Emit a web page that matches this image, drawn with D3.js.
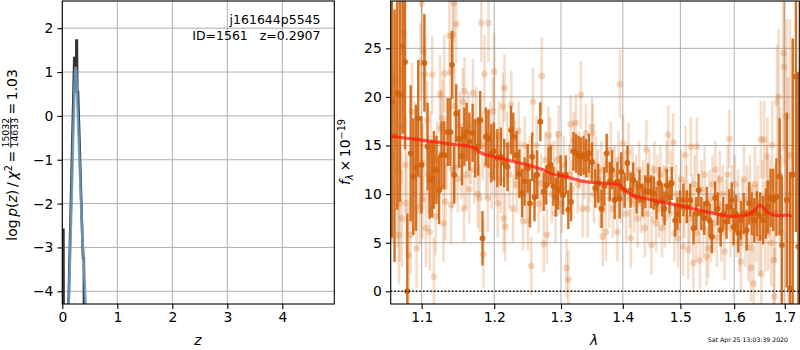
<!DOCTYPE html>
<html><head><meta charset="utf-8">
<script src="https://cdn.jsdelivr.net/npm/d3@7/dist/d3.min.js"></script>
<style>
body{margin:0;background:#fff;}
svg{display:block;font-family:"DejaVu Sans",sans-serif;}
</style></head><body>
<svg id="c" width="800" height="350"></svg>
<script>
// ---------- left panel: log p(z) ----------
const pzGridDark = [0.0, 0.02, 0.03, 0.11, 0.218, 0.226, 0.233, 0.25, 0.256, 0.265, 0.272, 0.285, 0.37, 0.378, 0.392, 0.40];
const pzLogDark  = [-2.6, -2.6, -8, -4.5, 1.32, 1.32, 0.55, 0.55, 1.72, 1.72, 0.55, 0.55, -3.0, -3.25, -3.25, -8];
const pzGridFit  = [0.115, 0.17, 0.22, 0.24, 0.252, 0.30, 0.37, 0.38, 0.39, 0.43];
const pzLogFit   = [-4.4, -1.9, 0.6, 1.12, 1.05, -0.6, -2.95, -3.0, -3.4, -4.4];
const zTicks   = [0, 1, 2, 3, 4];
const lnpTicks = [-4, -3, -2, -1, 0, 1, 2];
const objName  = "j161644p5545";
const objInfo  = "ID=1561\u00a0\u00a0\u00a0z=0.2907";

// ---------- right panel: spectrum ----------
const lamTicks  = [1.1, 1.2, 1.3, 1.4, 1.5, 1.6, 1.7];
const fluxTicks = [0, 5, 10, 15, 20, 25];

const darkWave = [1.0615,1.0648,1.0683,1.0717,1.0752,1.0782,1.0812,1.0856,1.0890,1.0925,1.0955,
 1.0997,1.1036,1.1078,1.1106,1.1140,1.1162,1.1196,1.1232,1.1265,1.1302,1.1349,1.1385,1.1409,1.1437,1.1465,1.1503,1.1545,1.1577,1.1609,1.1647,1.1693,1.1730,1.1772,1.1800,1.1832,1.1880,1.1916,1.1958,
 1.1996,1.2045,1.2095,1.2144,1.2193,1.2243,1.2277,1.2326,1.2366,1.2407,1.2445,1.2490,1.2525,1.2559,1.2593,1.2634,1.2682,1.2733,1.2772,1.2807,1.2841,1.2881,1.2920,1.2955,1.2994,
 1.3032,1.3075,1.3114,1.3156,1.3195,1.3237,1.3276,1.3313,1.3357,1.3399,1.3443,1.3492,1.3545,1.3594,1.3649,1.3692,1.3731,1.3784,1.3821,1.3865,1.3909,1.3946,1.3974,
 1.4030,1.4078,1.4131,1.4176,1.4236,1.4282,1.4335,1.4383,1.4430,1.4483,1.4529,1.4577,1.4630,1.4677,1.4718,1.4758,1.4806,1.4847,1.4907,1.4947,1.4995,
 1.5055,1.5116,1.5179,1.5239,1.5289,1.5331,1.5381,1.5436,1.5484,1.5534,1.5576,1.5639,1.5687,1.5742,1.5792,1.5853,1.5902,1.5952,
 1.5989,1.6033,1.6078,1.6130,1.6183,1.6241,1.6292,1.6339,1.6389,1.6442,1.6506,1.6564,1.6617,1.6661,1.6714,1.6767,1.6831,1.6895,1.6942,
 1.7041,1.7108,1.7163,1.7230,1.7278];
const darkFlux = [19.5,16.0,20.4,20.2,25.2,23.6,0.0,14.2,11.8,12.7,17.8,
 13.0,23.5,14.9,11.45,11.6,12.5,12.5,10.4,14.0,14.0,16.4,16.4,23.3,12.0,18.3,15.7,13.9,15.9,16.4,15.4,16.3,14.7,14.9,17.6,5.45,15.9,15.7,14.2,
 14.4,13.7,13.85,13.2,12.8,16.6,15.9,14.0,12.1,10.1,11.3,12.65,9.05,13.85,9.7,12.0,17.45,10.25,10.9,12.8,13.0,10.8,9.7,10.4,12.0,
 9.9,12.0,8.4,9.2,14.4,14.2,14.0,13.85,14.0,13.7,14.2,13.3,10.6,11.1,8.5,10.8,14.2,11.3,12.5,9.4,11.3,9.5,12.3,
 10.4,13.2,10.4,11.45,9.7,10.8,9.4,10.25,11.45,10.25,10.1,9.05,11.1,9.4,8.5,10.9,9.7,11.1,7.3,8.0,8.7,
 9.4,8.7,9.4,6.5,8.0,10.4,8.0,7.5,9.05,7.3,5.6,9.6,8.5,6.3,8.0,7.2,8.7,9.4,
 6.65,8.0,6.0,7.3,8.0,6.3,9.05,8.0,7.3,8.0,7.7,7.3,8.0,8.7,9.6,9.4,9.7,11.8,4.75,
 9.4,0.3,12.0,22.1,4.6];
const darkErr = [14,13,12,11,9,9,8,7,6,6.5,6,
 5,5,4.5,4,4,4,3.5,3.5,3.5,3.5,3.5,3.5,3.5,3,3,3,3,3,3,3,3,3,3,3,2.8,3,3,3,
 3,3,3,2.5,2.5,2.5,2.5,2.5,2.5,2.5,2.5,2.5,2.5,2.5,2.5,2.5,2,2,2,2,2,2,2,2,2,
 2,2,2,2,2,2,2,2,2,2,2,2,2,2,2,2,2,2,2,2,2,2,2,
 1.8,1.8,1.8,1.8,1.7,1.7,1.7,1.7,1.7,1.7,1.7,1.7,1.7,1.7,1.7,1.7,1.7,1.7,1.7,1.7,1.7,
 1.7,1.7,1.7,1.7,1.7,1.7,1.7,1.7,1.7,1.7,1.7,1.7,1.7,1.7,1.7,1.8,1.8,1.8,
 1.9,1.9,2,2,2.1,2.1,2.2,2.2,2.3,2.3,2.5,2.5,2.6,2.7,3,3.2,4,6,7,
 9,12,14,16,18];

const lightWave = [1.0621,1.0661,1.0687,1.0705,1.0714,1.0734,1.0744,1.0757,1.0767,1.0786,1.0802,1.0826,1.0855,1.0872,1.0892,1.0912,1.0934,1.0958,1.0978,1.0987,
 1.1000,1.1008,1.1022,1.1029,1.1043,1.1056,1.1070,1.1088,1.1106,1.1123,1.1140,1.1162,1.1186,1.1207,1.1228,1.1246,1.1256,1.1279,1.1291,1.1302,1.1316,1.1339,1.1372,1.1385,1.1395,1.1409,1.1419,1.1433,1.1441,1.1451,1.1465,1.1489,1.1514,1.1535,1.1556,1.1573,1.1581,1.1605,1.1631,1.1647,1.1668,1.1698,1.1716,1.1744,1.1765,1.1790,1.1814,1.1835,1.1846,1.1860,1.1884,1.1908,1.1916,1.1940,1.1961,1.1982,
 1.2000,1.2025,1.2050,1.2070,1.2092,1.2125,1.2136,1.2148,1.2159,1.2188,1.2218,1.2248,1.2273,1.2300,1.2329,1.2359,1.2389,1.2421,1.2448,1.2470,1.2496,1.2522,1.2545,1.2570,1.2596,1.2626,1.2656,1.2693,1.2703,1.2733,1.2760,1.2782,1.2804,1.2831,1.2856,1.2886,1.2915,1.2938,1.2964,1.2990,
 1.3013,1.3045,1.3086,1.3114,1.3135,1.3151,1.3175,1.3200,1.3232,1.3265,1.3289,1.3313,1.3341,1.3370,1.3394,1.3422,1.3451,1.3492,1.3503,1.3524,1.3557,1.3589,1.3622,1.3646,1.3666,1.3695,1.3719,1.3744,1.3776,1.3800,1.3833,1.3865,1.3909,1.3930,1.3951,1.3971,
 1.4004,1.4030,1.4056,1.4095,1.4118,1.4136,1.4162,1.4189,1.4224,1.4250,1.4277,1.4312,1.4347,1.4374,1.4400,1.4427,1.4453,1.4489,1.4515,1.4541,1.4568,1.4594,1.4621,1.4647,1.4674,1.4700,1.4727,1.4753,1.4783,1.4806,1.4832,1.4871,1.4894,1.4920,1.4959,1.4982,
 1.5018,1.5050,1.5074,1.5092,1.5120,1.5142,1.5166,1.5190,1.5212,1.5234,1.5258,1.5285,1.5300,1.5331,1.5355,1.5387,1.5414,1.5442,1.5479,1.5510,1.5534,1.5562,1.5589,1.5617,1.5644,1.5672,1.5700,1.5727,1.5755,1.5783,1.5816,1.5847,1.5874,1.5908,1.5930,1.5958,1.5985,
 1.6014,1.6043,1.6072,1.6101,1.6130,1.6160,1.6189,1.6218,1.6247,1.6276,1.6305,1.6325,1.6354,1.6377,1.6403,1.6432,1.6461,1.6490,1.6519,1.6529,1.6558,1.6584,1.6607,1.6636,1.6650,1.6665,1.6695,1.6724,1.6747,1.6778,1.6792,1.6811,1.6844,1.6875,1.6899,1.6928,1.6973,1.6986,
 1.7041,1.7067,1.7108];
const lightFlux = [14.0,21.7,12.5,5.8,9.05,17.0,7.5,24.6,26.6,13.0,9.05,3.7,5.8,18.5,10.0,15.5,4.4,12.0,8.7,23.6,
 29.6,9.4,13.2,24.6,22.3,6.5,17.6,12.0,6.1,14.5,22.3,1.5,7.7,13.5,11.0,20.3,16.8,17.8,7.0,22.4,9.2,14.0,26.3,22.5,8.9,12.5,26.4,29.7,19.0,12.7,27.5,11.6,17.0,13.0,19.5,8.5,20.6,12.0,17.0,10.5,14.5,20.4,12.5,17.5,10.0,9.6,27.6,15.0,3.8,22.35,13.0,9.6,27.6,16.0,12.0,18.5,
 22.6,13.0,9.05,16.0,11.5,19.0,7.5,20.9,6.65,15.0,12.0,19.2,8.5,14.0,11.0,16.5,12.5,7.2,15.0,10.5,7.2,13.0,2.6,19.5,11.5,15.0,9.0,11.1,22.15,4.9,13.5,5.8,16.0,14.9,10.0,12.5,8.0,13.5,16.15,11.0,
 9.0,13.0,2.4,1.2,12.0,17.2,10.5,15.5,17.3,11.0,13.5,20.2,8.5,12.5,16.25,8.5,12.0,16.9,16.3,10.0,13.0,11.5,9.5,12.5,5.6,11.0,6.1,13.0,9.5,14.5,8.5,12.0,6.1,13.5,21.3,10.0,
 15.2,11.5,8.0,14.3,9.5,5.45,12.0,9.0,11.0,7.5,12.5,9.0,10.5,6.5,14.6,8.0,11.5,4.75,10.0,12.5,7.0,11.0,8.5,12.0,6.5,10.0,7.5,12.5,16.1,8.0,11.5,15.3,6.0,10.0,5.45,9.0,
 11.5,4.6,8.5,14.0,10.0,4.25,7.5,14.9,9.0,2.9,11.0,6.0,14.9,8.0,3.2,10.5,6.5,12.0,3.55,4.4,9.5,6.0,11.0,7.0,12.5,5.5,9.0,11.5,6.0,10.0,4.1,8.5,12.0,15.7,6.5,10.0,7.5,
 11.0,6.5,9.5,5.0,3.05,8.0,11.5,6.0,9.5,4.5,10.5,2.4,7.5,0.8,11.0,7.0,9.0,5.5,15.6,1.8,9.5,15.6,6.0,11.0,13.85,6.1,9.5,5.0,15.05,3.2,-0.55,8.0,19.4,20.0,12.0,6.0,24.5,23.1,
 18.0,10.0,14.0];
const lightErr = [9,7,8,5,6,6,5,6,7,5,5,5,4,5,4,4,4,4,4,4,
 5,4,4,4,4,4,4,4,4,4,4,4,4,4,3.5,4,4,4,4,4,4,3.5,4,4,4,4,4,4,4,3.5,4,3.5,3.5,3.5,3.5,3.5,3.5,3.5,3.5,3.5,3.5,3.5,3.5,3.5,3.5,3.5,4,3.5,3.5,4,3.5,3.5,4,3.5,3.5,3.5,
 4,3.5,3.5,3.5,3.5,3.5,3.5,3.5,3.5,3.5,3.5,3.5,3.5,3.5,3,3,3,3,3,3,3,3,3,3.5,3,3,3,3,4,3,3,3,3,3,3,3,3,3,3,3,
 3,3,3,3,3,3,3,3,3,3,3,3.5,3,3,3,3,3,3,3,3,3,3,3,3,3,3,3,3,3,3,3,3,3,3,3.5,3,
 3,3,3,3,3,3,3,3,3,3,3,3,3,3,3,3,3,3,3,3,3,3,3,3,3,3,3,3,3,3,3,3,3,3,3,3,
 3,3,3,3,3,3,3,3,3,3,3,3,3,3,3,3,3,3,3,3,3,3,3,3,3,3,3,3,3,3,3,3,3,3,3,3,3,
 3,3,3,3,3,3.5,3.5,3.5,3.5,3.5,3.5,3.5,3.5,4,4,4,4,4,4,4,4,4,4,4,4,4,4,4.5,4.5,5,5,5,6,7,7,8,10,10,
 10,12,14];

const modelWave = [1.0600,1.0800,1.1000,1.1200,1.1450,1.1600,1.1720,1.1800,1.1860,1.2000,1.2250,1.2545,1.2700,1.2880,1.3000,1.3370,1.3700,1.3910,1.3960,1.4000,1.4140,1.4300,1.4430,1.4700,1.5020,1.5300,1.5630,1.5940,1.6150,1.6260,1.6390,1.6506,1.6617,1.6714,1.6875,1.7073,1.7143];
const modelFlux = [15.98,15.75,15.55,15.35,15.1,14.98,14.75,14.3,14.1,13.85,13.4,12.9,12.55,12.05,11.9,11.3,11.1,11.0,10.9,10.6,9.95,9.65,9.5,9.15,8.78,8.4,8.0,7.7,7.75,7.9,8.3,8.85,8.35,7.95,7.78,7.85,7.67];

const stamp = "Sat Apr 25 13:03:39 2020";

// ---------- drawing ----------
const svg = d3.select("#c");
const FS = 13.9;
const C_DARK = "#d2640f";
const GRID = "#b0b0b0";

function axesFrame(g, x, y, xt, yt, xfmt, yfmt) {
  const [x0, x1] = x.range(), [y0, y1] = y.range();
  // grid
  g.append("g").selectAll("line").data(xt).join("line")
    .attr("x1", d => x(d)).attr("x2", d => x(d)).attr("y1", y1).attr("y2", y0)
    .attr("stroke", GRID).attr("stroke-width", 1);
  g.append("g").selectAll("line").data(yt).join("line")
    .attr("y1", d => y(d)).attr("y2", d => y(d)).attr("x1", x0).attr("x2", x1)
    .attr("stroke", GRID).attr("stroke-width", 1);
}
function axesDecor(g, x, y, xt, yt, xfmt, yfmt) {
  const [x0, x1] = x.range(), [y0, y1] = y.range();
  g.append("rect").attr("x", x0).attr("y", y1).attr("width", x1 - x0).attr("height", y0 - y1)
    .attr("fill", "none").attr("stroke", "#000").attr("stroke-width", 1.1);
  const xa = g.append("g").attr("transform", `translate(0,${y0})`)
    .call(d3.axisBottom(x).tickValues(xt).tickFormat(xfmt).tickSize(4.9).tickPadding(3.2));
  const ya = g.append("g").attr("transform", `translate(${x0},0)`)
    .call(d3.axisLeft(y).tickValues(yt).tickFormat(yfmt).tickSize(4.9).tickPadding(4.0));
  [xa, ya].forEach(a => {
    a.select(".domain").remove();
    a.selectAll("text").attr("font-size", FS).attr("font-family", "DejaVu Sans").attr("fill", "#000");
    a.selectAll("line").attr("stroke", "#000").attr("stroke-width", 1.1);
  });
}
const minusFmt = d => (d < 0 ? "\u2212" + Math.abs(d) : String(d));

// ----- left panel -----
const xz = d3.scaleLinear().domain([0, 4.945]).range([62.3, 334.3]);
const yp = d3.scaleLinear().domain([-4.29, 2.62]).range([304, 1]);
const gL = svg.append("g");
axesFrame(gL, xz, yp, zTicks, lnpTicks);
svg.append("defs").html(
  `<clipPath id="clipL"><rect x="62.3" y="1" width="272" height="303"/></clipPath>
   <clipPath id="clipR"><rect x="390.7" y="1" width="408.6" height="303"/></clipPath>`);
const lineL = d3.line().x(d => xz(d[0])).y(d => yp(d[1]));
const gLc = gL.append("g").attr("clip-path", "url(#clipL)");
gLc.append("path").attr("d", lineL(d3.zip(pzGridDark, pzLogDark)))
  .attr("fill", "none").attr("stroke", "#333").attr("stroke-width", 2.6).attr("stroke-linejoin", "miter");
gLc.append("path").attr("d", lineL(d3.zip(pzGridFit, pzLogFit)))
  .attr("fill", "none").attr("stroke", "#6f9fc8").attr("stroke-width", 2.6).attr("stroke-opacity", 0.85);
axesDecor(gL, xz, yp, zTicks, lnpTicks, d => String(d), minusFmt);
gL.append("text").attr("x", 320.5).attr("y", 24).attr("text-anchor", "end")
  .attr("font-size", 12.5).text(objName);
gL.append("text").attr("x", 320.5).attr("y", 39.5).attr("text-anchor", "end")
  .attr("font-size", 12.5).text(objInfo);
gL.append("text").attr("x", 198).attr("y", 345).attr("text-anchor", "middle")
  .attr("font-size", FS).attr("font-style", "italic").text("z");

// left y label with fraction
(function () {
  const g = svg.append("g");
  const t1 = g.append("text").attr("font-size", FS).attr("y", 0).attr("x", 0);
  t1.append("tspan").text("log\u2009");
  t1.append("tspan").attr("font-style", "italic").text("p");
  t1.append("tspan").text("(");
  t1.append("tspan").attr("font-style", "italic").text("z");
  t1.append("tspan").text(")\u2009/\u2009");
  t1.append("tspan").attr("font-style", "italic").text("\u03c7");
  t1.append("tspan").attr("font-size", 9.7).attr("dy", -5.5).text("2");
  t1.append("tspan").attr("dy", 5.5).text("\u2009=\u2009");
  const w1 = t1.node().getComputedTextLength();
  const num = g.append("text").attr("font-size", 9.3).attr("text-anchor", "middle").text("15032");
  const den = g.append("text").attr("font-size", 9.3).attr("text-anchor", "middle").text("14633");
  const fw = Math.max(num.node().getComputedTextLength(), den.node().getComputedTextLength()) + 1;
  num.attr("x", w1 + fw / 2).attr("y", -8.6);
  den.attr("x", w1 + fw / 2).attr("y", 0.6);
  g.append("line").attr("x1", w1).attr("x2", w1 + fw).attr("y1", -6.6).attr("y2", -6.6)
    .attr("stroke", "#000").attr("stroke-width", 0.8);
  const t3 = g.append("text").attr("font-size", FS).attr("x", w1 + fw).attr("y", 0).text("\u2009=\u20091.03");
  const total = w1 + fw + t3.node().getComputedTextLength();
  g.attr("transform", `translate(17.3,${155 + total / 2}) rotate(-90)`);
})();

// ----- right panel -----
const xl = d3.scaleLog().domain([1.0599, 1.7299]).range([390.7, 799.3]);
const yf = d3.scaleLinear().domain([-1.31, 29.87]).range([304, 1]);
const gR = svg.append("g");
axesFrame(gR, xl, yf, lamTicks, fluxTicks);
const gRc = gR.append("g").attr("clip-path", "url(#clipR)");

const light = lightWave.map((w, i) => ({ w, f: lightFlux[i], e: lightErr[i] }));
const dark = darkWave.map((w, i) => ({ w, f: darkFlux[i], e: darkErr[i] }));

const gl = gRc.append("g").attr("opacity", 1);
gl.selectAll("line").data(light).join("line")
  .attr("x1", d => xl(d.w)).attr("x2", d => xl(d.w))
  .attr("y1", d => yf(d.f - d.e)).attr("y2", d => yf(d.f + d.e))
  .attr("stroke", C_DARK).attr("stroke-opacity", 0.22).attr("stroke-width", 2.6);
gl.selectAll("circle").data(light).join("circle")
  .attr("cx", d => xl(d.w)).attr("cy", d => yf(d.f)).attr("r", 3.3)
  .attr("fill", C_DARK).attr("fill-opacity", 0.25);

const gd = gRc.append("g");
gd.selectAll("line").data(dark).join("line")
  .attr("x1", d => xl(d.w)).attr("x2", d => xl(d.w))
  .attr("y1", d => yf(d.f - d.e)).attr("y2", d => yf(d.f + d.e))
  .attr("stroke", C_DARK).attr("stroke-opacity", 0.92).attr("stroke-width", 2.4);
gd.selectAll("circle").data(dark).join("circle")
  .attr("cx", d => xl(d.w)).attr("cy", d => yf(d.f)).attr("r", 2.9)
  .attr("fill", C_DARK).attr("fill-opacity", 0.95);

gRc.append("path")
  .attr("d", d3.line().x(d => xl(d[0])).y(d => yf(d[1])).curve(d3.curveMonotoneX)(d3.zip(modelWave, modelFlux)))
  .attr("fill", "none").attr("stroke", "#ff1a0a").attr("stroke-opacity", 0.72).attr("stroke-width", 3.2);

gRc.append("line").attr("x1", 390.7).attr("x2", 799.3).attr("y1", yf(0)).attr("y2", yf(0))
  .attr("stroke", "#000").attr("stroke-width", 1.4).attr("stroke-dasharray", "1.4,2.2");

axesDecor(gR, xl, yf, lamTicks, fluxTicks, d3.format(".1f"), d => String(d));
gR.append("text").attr("x", 594).attr("y", 345).attr("text-anchor", "middle")
  .attr("font-size", FS).attr("font-style", "italic").text("\u03bb");

// right y label
(function () {
  const t = svg.append("text").attr("font-size", FS).attr("text-anchor", "middle")
    .attr("transform", "translate(350,152) rotate(-90)");
  t.append("tspan").attr("font-style", "italic").text("f");
  t.append("tspan").attr("font-size", 9.7).attr("font-style", "italic").attr("dy", 3).text("\u03bb");
  t.append("tspan").attr("dy", -3).text("\u2009\u00d7\u200910");
  t.append("tspan").attr("font-size", 9.7).attr("dy", -5.5).text("\u221219");
})();

svg.append("text").attr("x", 788).attr("y", 342).attr("text-anchor", "end")
  .attr("font-size", 6.2).text(stamp);
</script>
</body></html>
